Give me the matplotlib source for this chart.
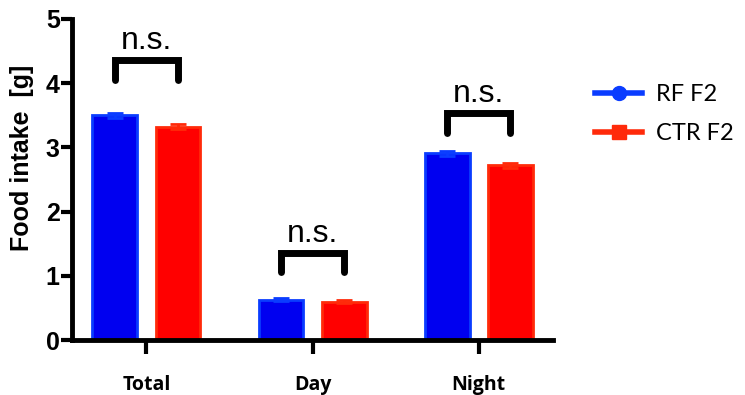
#!/usr/bin/env python
"""Food intake bar chart (RF F2 vs CTR F2) -> out.png"""

import numpy as np
import matplotlib.pyplot as plt
from matplotlib.lines import Line2D

CATEGORIES = ["Total", "Day", "Night"]
RF_MEAN = [3.50, 0.63, 2.91]
RF_ERR = [0.04, 0.02, 0.04]
CTR_MEAN = [3.32, 0.60, 2.72]
CTR_ERR = [0.04, 0.02, 0.04]
# bracket height (top) and leg bottom for each n.s. annotation
BRACKET_TOP = [4.36, 1.36, 3.54]
BRACKET_LEG = [4.05, 1.06, 3.22]
SERIES = ["RF F2", "CTR F2"]

BLUE_FACE, BLUE_EDGE = "#0000f0", "#0a3cff"
RED_FACE, RED_EDGE = "#ff0000", "#ff2a0a"


def main():
    fig = plt.figure(figsize=(7.45, 3.95), dpi=100)
    ax = fig.add_axes([0.097, 0.139, 0.645, 0.813])

    x = np.arange(len(CATEGORIES))
    off, w = 0.19, 0.27

    ax.bar(x - off, RF_MEAN, w, color=BLUE_FACE, edgecolor=BLUE_EDGE, lw=2,
           yerr=RF_ERR, error_kw=dict(ecolor=BLUE_EDGE, capsize=6, capthick=2, lw=2),
           zorder=2)
    ax.bar(x + off, CTR_MEAN, w, color=RED_FACE, edgecolor=RED_EDGE, lw=2,
           yerr=CTR_ERR, error_kw=dict(ecolor=RED_EDGE, capsize=6, capthick=2, lw=2),
           zorder=2)

    for xi, top, leg in zip(x, BRACKET_TOP, BRACKET_LEG):
        ax.plot([xi - off, xi - off, xi + off, xi + off], [leg, top, top, leg],
                color="black", lw=5, solid_capstyle="round",
                solid_joinstyle="miter", clip_on=False)
        ax.text(xi, top + 0.17, "n.s.", ha="center", va="baseline",
                fontsize=23, family="Liberation Sans")

    ax.set_xlim(-0.446, 2.446)
    ax.set_ylim(0, 5)
    ax.set_yticks([0, 1, 2, 3, 4, 5])
    ax.set_xticks(x)
    ax.set_xticklabels(CATEGORIES, fontsize=14, fontweight="bold", family="Open Sans")
    for lab in ax.get_yticklabels():
        lab.set_fontsize(18)
        lab.set_fontweight("bold")
        lab.set_family("Liberation Sans")
    ax.tick_params(axis="y", width=3, length=8, pad=1)
    ax.tick_params(axis="x", width=3, length=10, pad=15)

    for side in ("top", "right"):
        ax.spines[side].set_visible(False)
    for side in ("left", "bottom"):
        ax.spines[side].set_linewidth(3.5)

    ax.set_ylabel("Food intake  [g]", fontsize=18, fontweight="bold",
                  family="Liberation Sans")
    ax.yaxis.set_label_coords(-0.08, 0.567)

    handles = [
        Line2D([], [], color="#0a3cff", lw=4, marker="o", markersize=10),
        Line2D([], [], color="#ff2a0a", lw=4, marker="s", markersize=10),
    ]
    fig.legend(handles, SERIES, loc="upper left", bbox_to_anchor=(0.77, 0.84),
               frameon=False, handlelength=2.0, handletextpad=0.6,
               labelspacing=0.75, prop=dict(family="Lato", size=17))

    fig.savefig("out.png", dpi=100)


if __name__ == "__main__":
    main()
